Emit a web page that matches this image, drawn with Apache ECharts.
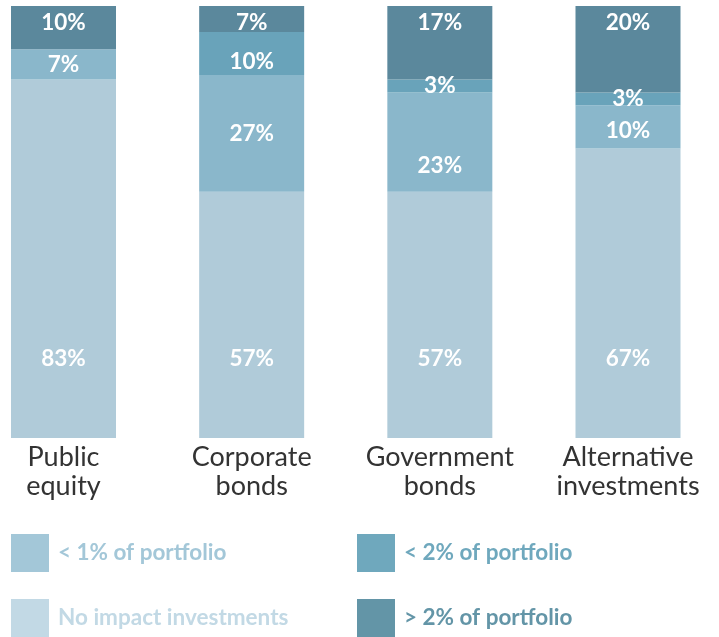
<!DOCTYPE html>
<html>
<head>
<meta charset="utf-8">
<script src="https://cdn.jsdelivr.net/npm/echarts@6/dist/echarts.min.js"></script>
<style>html,body{margin:0;padding:0;background:#fff}#c{width:719px;height:637px}</style>
</head>
<body>
<div id="c"></div>
<script>
var categories = ['Public\nequity', 'Corporate\nbonds', 'Government\nbonds', 'Alternative\ninvestments'];
var noImpact = [83, 57, 57, 67];
var lt1 = [7, 27, 23, 10];
var lt2 = [0, 10, 3, 3];
var gt2 = [10, 7, 17, 20];
var seriesNames = ['No impact investments', '< 1% of portfolio', '< 2% of portfolio', '> 2% of portfolio'];

var barColors = ['#b0cbd9', '#8ab7cb', '#69a3ba', '#5b889c'];
var legendColors = ['#c2d9e5', '#a3c7d8', '#6fa8bd', '#6395a7'];
var FONT = 'Lato';

function lbl(pos, dist) {
  return {
    show: true, position: pos, distance: dist, color: '#fff', fontFamily: FONT,
    fontWeight: 'bold', fontSize: 22.5,
    formatter: function (p) { return p.value > 0 ? p.value + '%' : ''; }
  };
}

// label nudges (series index -> category index -> [dx, dy])
var labelNudge = { 1: { 2: [0, 24], 3: [0, 4] }, 2: { 1: [0, 8] } };

var chart = echarts.init(document.getElementById('c'));
var dataSets = [noImpact, lt1, lt2, gt2];
var labels = [lbl('insideBottom', 68), lbl('inside', 0), lbl('inside', 0), lbl('insideTop', 5)];

var series = dataSets.map(function (d, i) {
  return {
    name: seriesNames[i], type: 'bar', stack: 'all', barWidth: 105,
    itemStyle: { color: barColors[i] },
    label: labels[i],
    data: d.map(function (v, j) {
      var item = { value: v };
      if (labelNudge[i] && labelNudge[i][j]) item.label = { offset: labelNudge[i][j] };
      return item;
    })
  };
});

function legendItem(i) {
  return { name: seriesNames[i], itemStyle: { color: legendColors[i] }, textStyle: { color: legendColors[i] } };
}
var legendBase = {
  orient: 'vertical', itemWidth: 38, itemHeight: 38, itemGap: 27, icon: 'rect',
  selectedMode: false, padding: 0, height: 110,
  textStyle: { fontFamily: FONT, fontSize: 22.5, fontWeight: 'bold', padding: [0, 0, 0, 4] }
};

chart.setOption({
  animation: false,
  grid: { left: 63.5, right: 91, top: 6, bottom: 199, containLabel: false },
  xAxis: {
    type: 'category', data: categories, boundaryGap: false,
    axisLine: { show: false }, axisTick: { show: false },
    axisLabel: { fontFamily: FONT, fontSize: 27, lineHeight: 29, color: '#333', margin: 5, interval: 0 }
  },
  yAxis: { type: 'value', min: 0, max: 100, show: false, splitLine: { show: false } },
  legend: [
    Object.assign({}, legendBase, { left: 11, top: 534, data: [legendItem(1), legendItem(0)] }),
    Object.assign({}, legendBase, { left: 357, top: 534, data: [legendItem(2), legendItem(3)] })
  ],
  series: series
});
</script>
</body>
</html>
